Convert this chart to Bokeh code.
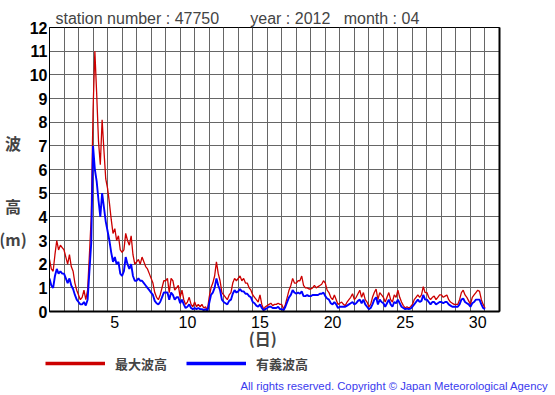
import numpy as np
from bokeh.plotting import figure
from bokeh.layouts import row, column
from bokeh.models import Range1d, FixedTicker, LinearAxis, Legend, LegendItem, Label
from bokeh.embed import file_html
from bokeh.resources import INLINE

# ---- data (3-hourly, April 1 00:00 .. May 1 00:00) ----
max_wave = [
    2.2, 1.8, 1.7, 2.4, 3.0, 2.6, 2.8, 2.7,
    2.6, 2.3, 2.0, 2.4, 1.9, 1.7, 1.2, 0.9,
    0.7, 0.5, 0.6, 0.9, 0.5, 0.9, 2.4, 4.0,
    8.5, 11.0, 9.2, 7.2, 6.2, 8.1, 6.8, 5.6,
    5.2, 4.6, 3.9, 3.3, 3.5, 3.0, 3.2, 2.6,
    2.5, 2.6, 3.3, 3.0, 2.8, 3.2, 2.4, 2.0,
    2.1, 2.2, 2.0, 2.3, 2.1, 1.9, 1.8, 1.6,
    1.4, 1.2, 0.8, 0.6, 0.5, 0.7, 1.0, 1.3,
    1.3, 1.4, 0.8, 1.4, 1.3, 0.9, 1.0, 1.1,
    0.6, 0.9, 0.5, 0.3, 0.4, 0.6, 0.3, 0.2,
    0.4, 0.2, 0.3, 0.2, 0.3, 0.15, 0.2, 0.05,
    0.6, 1.0, 1.2, 1.5, 2.1, 1.6, 1.3, 0.8,
    0.7, 0.6, 0.5, 0.7, 0.8, 1.2, 1.4, 1.3,
    1.4, 1.5, 1.3, 1.4, 1.2, 1.2, 1.0, 0.9,
    0.7, 0.6, 0.5, 0.4, 0.7, 0.3, 0.1, 0.2,
    0.25, 0.3, 0.35, 0.25, 0.3, 0.3, 0.35, 0.3,
    0.3, 0.1, 0.3, 0.6, 0.9, 1.1, 1.4, 1.2,
    1.2, 1.3, 1.3, 1.5, 1.1, 1.0, 1.0, 0.95,
    0.95, 1.0, 1.1, 1.0, 1.05, 1.1, 1.15, 1.3,
    1.2, 0.9, 0.8, 0.6, 0.5, 0.7, 0.5, 0.3,
    0.35, 0.4, 0.3, 0.25, 0.4, 0.5, 0.6, 0.75,
    0.5, 0.6, 0.75, 0.9, 0.6, 0.8, 0.5, 0.4,
    0.2, 0.3, 0.6, 0.8, 0.95, 0.5, 0.8, 0.7,
    0.6, 0.4, 0.6, 0.8, 0.5, 0.4, 0.7, 0.6,
    0.9, 0.6, 0.4, 0.25, 0.15, 0.2, 0.15, 0.2,
    0.3, 0.5, 0.6, 0.7, 0.6, 0.7, 1.05, 0.8,
    0.8, 0.6, 0.5, 0.6, 0.65, 0.5, 0.6, 0.7,
    0.7, 0.6, 0.65, 0.7, 0.5, 0.4, 0.35, 0.3,
    0.3, 0.3, 0.5, 0.8, 0.9, 0.7, 0.6, 0.45,
    0.3, 0.6, 0.7, 0.8, 0.9, 0.85, 0.5, 0.3,
    0.15,
]
sig_wave = [
    1.4, 1.1, 1.0, 1.5, 1.8, 1.6, 1.7, 1.6,
    1.6, 1.4, 1.2, 1.4, 1.1, 0.95, 0.7, 0.5,
    0.4, 0.3, 0.3, 0.4, 0.25, 0.5, 1.7, 2.9,
    7.0, 6.0, 5.5, 4.7, 4.0, 5.0, 4.4, 3.8,
    3.4, 3.0, 2.5, 2.1, 2.3, 2.0, 2.1, 1.6,
    1.5, 1.7, 2.3, 2.0, 1.8, 2.0, 1.5, 1.3,
    1.3, 1.4, 1.3, 1.3, 1.2, 1.1, 1.0, 0.9,
    0.8, 0.7, 0.45, 0.35, 0.3, 0.4, 0.6, 0.8,
    0.8, 0.8, 0.5, 0.8, 0.7, 0.5, 0.6, 0.6,
    0.35, 0.5, 0.3, 0.15, 0.2, 0.3, 0.15, 0.1,
    0.15, 0.1, 0.15, 0.1, 0.1, 0.05, 0.1, 0.0,
    0.35, 0.7, 0.8, 1.0, 1.4, 1.1, 0.9, 0.5,
    0.4, 0.35, 0.3, 0.45, 0.5, 0.75, 0.9, 0.8,
    0.85, 0.95, 0.85, 0.85, 0.75, 0.75, 0.65, 0.6,
    0.4, 0.35, 0.25, 0.2, 0.3, 0.15, 0.05, 0.1,
    0.15, 0.2, 0.2, 0.15, 0.15, 0.15, 0.2, 0.1,
    0.1, 0.05, 0.2, 0.4, 0.6, 0.7, 0.9, 0.8,
    0.75, 0.8, 0.75, 0.85, 0.65, 0.65, 0.7, 0.65,
    0.65, 0.7, 0.7, 0.7, 0.7, 0.75, 0.75, 0.8,
    0.65, 0.55, 0.5, 0.35, 0.3, 0.4, 0.3, 0.15,
    0.2, 0.2, 0.2, 0.2, 0.25, 0.3, 0.35, 0.4,
    0.3, 0.35, 0.45, 0.5, 0.35, 0.5, 0.3, 0.2,
    0.1, 0.15, 0.3, 0.5, 0.6, 0.3, 0.5, 0.4,
    0.35, 0.2, 0.35, 0.5, 0.3, 0.2, 0.4, 0.35,
    0.5, 0.35, 0.2, 0.15, 0.1, 0.12, 0.1, 0.12,
    0.2, 0.3, 0.4, 0.5, 0.4, 0.45, 0.7, 0.5,
    0.5, 0.4, 0.3, 0.4, 0.4, 0.3, 0.35, 0.4,
    0.4, 0.35, 0.4, 0.4, 0.3, 0.25, 0.2, 0.2,
    0.2, 0.2, 0.3, 0.5, 0.55, 0.4, 0.35, 0.3,
    0.2, 0.35, 0.4, 0.5, 0.5, 0.5, 0.3, 0.15,
    0.1,
]
# x coordinate: day number centred at noon (April 1 00:00 -> 0.5)
time_days = 0.5 + np.arange(len(max_wave)) / 8.0

day_ticks = [5, 10, 15, 20, 25, 30]
height_ticks = list(range(0, 13))
title_parts = ["station number : 47750", "year : 2012", "month : 04"]
legend_labels = ["最大波高", "有義波高"]
y_label_parts = ["波", "高", "(m)"]
x_label = "(日)"
copyright_text = "All rights reserved. Copyright \u00a9 Japan Meteorological Agency"

RED = "#cc0000"
BLUE = "#0000ff"
JP = "Noto Sans CJK JP"
LAT = "Liberation Sans"
NB = "\u00a0"

TOP_H = 352      # height of the row holding the chart
LEFT_W = 26      # width of the strip carrying the stacked label
FRAME_TOP = 27
FRAME_H = 284

# ---------------- main chart ----------------
p = figure(width=555 - LEFT_W, height=TOP_H, x_range=Range1d(0.5, 31.5), y_range=Range1d(0, 12),
           output_backend="svg", toolbar_location=None,
           min_border_left=46 - LEFT_W, min_border_right=555 - 46 - 453,
           min_border_top=FRAME_TOP, min_border_bottom=TOP_H - FRAME_TOP - FRAME_H)
p.background_fill_color = "white"
p.border_fill_color = "white"
p.outline_line_color = "black"
p.outline_line_width = 1

p.title.text = title_parts[0] + NB * 7 + title_parts[1] + NB * 3 + title_parts[2]
p.title.align = "left"
p.title.offset = 6
p.title.text_font = LAT
p.title.text_font_size = "16px"
p.title.text_font_style = "normal"
p.title.standoff = 2

p.xgrid.ticker = FixedTicker(ticks=[d + 0.5 for d in range(1, 31)])
p.ygrid.ticker = FixedTicker(ticks=list(range(1, 12)))
for g in (p.xgrid, p.ygrid):
    g.grid_line_color = "#666666"
    g.grid_line_width = 1

p.xaxis.ticker = FixedTicker(ticks=day_ticks)
p.yaxis.ticker = FixedTicker(ticks=height_ticks)
for ax in (p.xaxis, p.yaxis):
    ax.major_tick_line_color = None
    ax.minor_tick_line_color = None
    ax.major_tick_out = 0
    ax.major_tick_in = 0
    ax.axis_line_color = "black"
    ax.major_label_text_color = "black"
    ax.major_label_text_font = LAT
p.xaxis.axis_line_width = 2
p.xaxis.major_label_text_font_size = "16px"
p.xaxis.major_label_standoff = 4
p.yaxis.major_label_text_font_size = "16px"
p.yaxis.major_label_text_font_style = "bold"
p.yaxis.major_label_standoff = 2

p.xaxis.axis_label = x_label + "\u3000" + NB * 2
p.xaxis.axis_label_text_font = JP
p.xaxis.axis_label_text_font_size = "16px"
p.xaxis.axis_label_text_font_style = "bold"
p.xaxis.axis_label_standoff = -5

right_ax = LinearAxis(ticker=FixedTicker(ticks=[]), axis_line_width=2, axis_line_color="black",
                      major_tick_line_color=None, minor_tick_line_color=None,
                      major_tick_out=0, major_label_text_font_size="0px")
p.add_layout(right_ax, "right")

p.line(time_days, max_wave, line_color=RED, line_width=1.3)
p.line(time_days, sig_wave, line_color=BLUE, line_width=1.9)

# ---------------- left strip: stacked y label (frame aligned with chart frame) ----------------
left = figure(width=LEFT_W, height=TOP_H, x_range=Range1d(0, LEFT_W), y_range=Range1d(0, 12),
              output_backend="svg", toolbar_location=None,
              x_axis_location=None, y_axis_location=None, min_border_left=0, min_border_right=0,
              min_border_top=FRAME_TOP, min_border_bottom=TOP_H - FRAME_TOP - FRAME_H)
left.outline_line_color = None
left.background_fill_color = "white"
left.border_fill_color = "white"
left.grid.visible = False
frame_bottom = FRAME_TOP + FRAME_H
for txt, xc, page_y in [(y_label_parts[0], 12.5, 142),
                        (y_label_parts[1], 12.5, 205),
                        (y_label_parts[2], 12.5, 238)]:
    left.add_layout(Label(x=xc, y=frame_bottom - page_y, x_units="screen", y_units="screen",
                          text=txt, text_font=JP, text_font_size="16px", text_font_style="bold",
                          text_align="center", text_baseline="middle"))

# ---------------- footer: legend + copyright ----------------
FOOT_H = 395 - TOP_H
foot = figure(width=555, height=FOOT_H, x_range=Range1d(0, 555), y_range=Range1d(0, FOOT_H),
              output_backend="svg", toolbar_location=None,
              x_axis_location=None, y_axis_location=None, min_border=0)
foot.outline_line_color = None
foot.background_fill_color = "white"
foot.border_fill_color = "white"
foot.grid.visible = False
# legend sample renderers (kept outside the visible range, only their legend glyphs show)
r_leg_red = foot.line(x=[-60, -50], y=[-10, -10], line_color=RED, line_width=3.5)
r_leg_blue = foot.line(x=[-60, -50], y=[-10, -10], line_color=BLUE, line_width=3.5)
legend = Legend(items=[LegendItem(label=legend_labels[0], renderers=[r_leg_red]),
                       LegendItem(label=legend_labels[1], renderers=[r_leg_blue])],
                location=(45, FOOT_H - (363 - TOP_H) - 10), orientation="horizontal",
                glyph_width=60, glyph_height=20, label_height=20, label_standoff=10,
                spacing=19, padding=0, margin=0, border_line_color=None,
                background_fill_alpha=0,
                label_text_font=JP, label_text_font_style="bold", label_text_font_size="13px")
foot.add_layout(legend)
foot.add_layout(Label(x=240, y=FOOT_H - (385 - TOP_H), x_units="screen", y_units="screen",
                      text=copyright_text, text_font=LAT, text_font_size="11.3px",
                      text_color="#3a3aee", text_align="left", text_baseline="middle"))

layout = column(row(left, p, spacing=0), foot, spacing=0)
open("out.html", "w").write(file_html(layout, INLINE))
